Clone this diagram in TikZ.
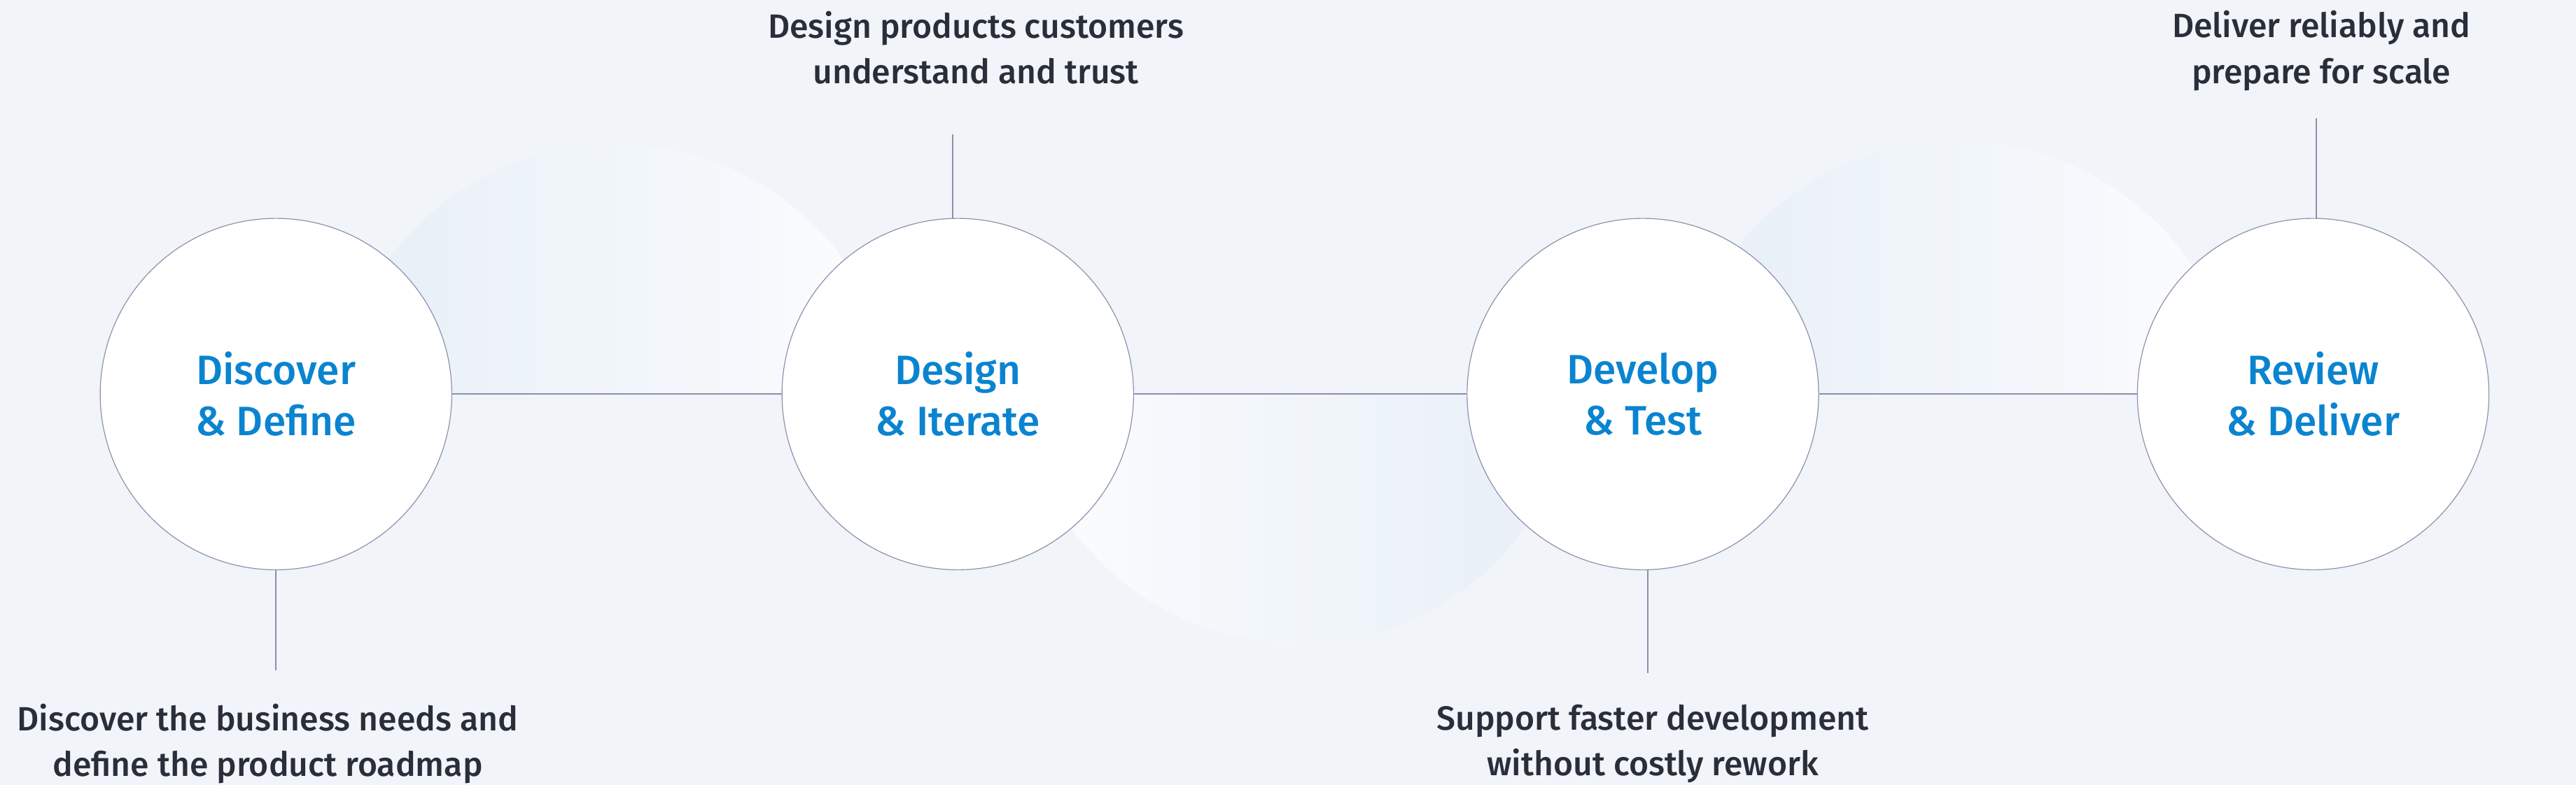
\documentclass[tikz,border=0pt]{standalone}
\usepackage{fontspec}
\setmainfont{Fira Sans}[BoldFont={Fira Sans Medium}]
\newfontfamily\medfont{Fira Sans Medium}
\definecolor{bg}{HTML}{F1F4F8}
\definecolor{ttl}{HTML}{0A84D0}
\definecolor{lbl}{HTML}{2A2E3A}
\definecolor{ln}{HTML}{8E8EAE}
\definecolor{glow}{HTML}{E4EEF7}
\begin{document}
\begin{tikzpicture}[x=1pt,y=-1pt,
  stage/.style={circle,draw=ln,line width=0.5pt,fill=white,minimum size=214pt,inner sep=0pt,align=center,font=\fontsize{25}{31}\selectfont\medfont,text=ttl},
  lab/.style={align=center,font=\fontsize{20.5}{28}\selectfont\medfont,text=lbl},
  conn/.style={draw=ln,line width=0.7pt}]
\fill[bg] (0,0) rectangle (1568,478);
\useasboundingbox (0,0) rectangle (1568,478);
\begin{scope}
\clip (0,0) rectangle (1568,240);
\shade[left color=glow,right color=white,opacity=0.8] (375,260) circle (172);
\shade[left color=glow,right color=white,opacity=0.8] (1192,258) circle (172);
\end{scope}
\begin{scope}
\clip (0,240) rectangle (1568,478);
\shade[left color=white,right color=glow,opacity=0.8] (790,222) circle (170);
\end{scope}
\node[stage] (a) at (168,240) {Discover\\\& Define};
\node[stage] (b) at (583,240) {Design\\\& Iterate};
\node[stage] (c) at (1000,240) {Develop\\\& Test};
\node[stage] (d) at (1408,240) {Review\\\& Deliver};
\draw[conn] (a) -- (b);
\draw[conn] (b) -- (c);
\draw[conn] (c) -- (d);
\coordinate (ta) at (168,408);
\coordinate (tb) at (580,82);
\coordinate (tc) at (1003,410);
\coordinate (td) at (1410,72);
\draw[conn] (ta |- a.south) -- (ta);
\draw[conn] (tb |- b.north) -- (tb);
\draw[conn] (tc |- c.south) -- (tc);
\draw[conn] (td |- d.north) -- (td);
\node[lab] (la) at (163,453) {Discover the business needs and\\define the product roadmap};
\node[lab] (lb) at (594,29) {Design products customers\\understand and trust};
\node[lab] (lc) at (1006,453) {Support faster development\\without costly rework};
\node[lab] (ld) at (1413,31) {Deliver reliably and\\prepare for scale};
\end{tikzpicture}
\end{document}
